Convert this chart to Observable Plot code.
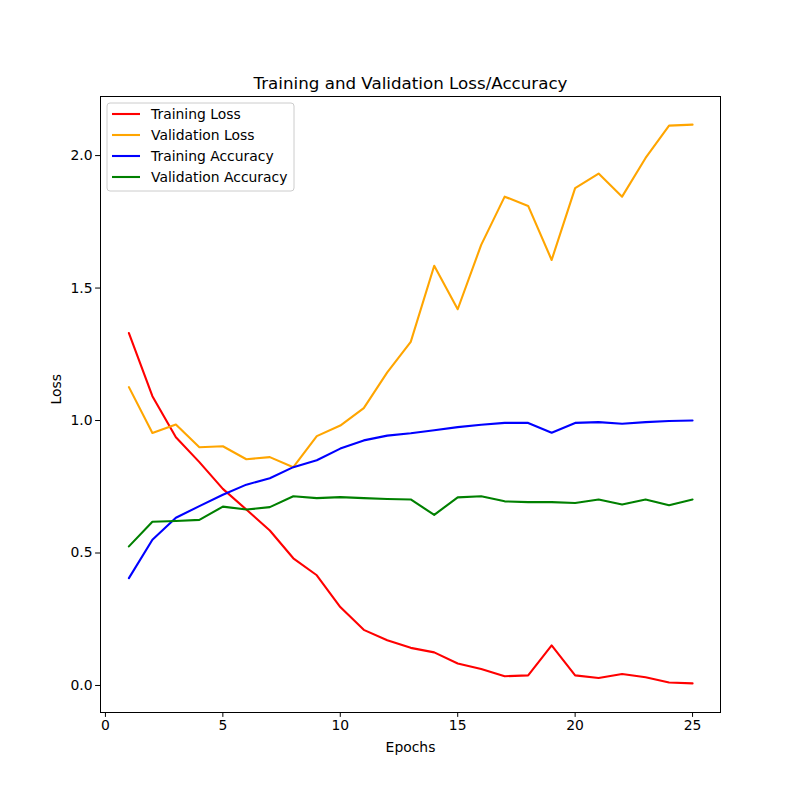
<!DOCTYPE html>
<html>
<head>
<meta charset="utf-8">
<script src="https://cdn.jsdelivr.net/npm/d3@7"></script>
<script src="https://cdn.jsdelivr.net/npm/@observablehq/plot@0.6"></script>
<style>
  body { margin: 0; background: white; }
  #chart { position: relative; width: 800px; height: 800px; }
</style>
</head>
<body>
<div id="chart"></div>
<script>
const epochs = d3.range(1, 26);

const trainLoss = [1.330, 1.092, 0.937, 0.843, 0.742, 0.664, 0.585, 0.480, 0.416, 0.296, 0.210, 0.171, 0.142,
                   0.125, 0.083, 0.062, 0.035, 0.038, 0.151, 0.038, 0.028, 0.043, 0.031, 0.011, 0.008];
const valLoss = [1.126, 0.953, 0.985, 0.899, 0.903, 0.854, 0.862, 0.824, 0.941, 0.981, 1.047, 1.182, 1.297,
                 1.584, 1.420, 1.663, 1.845, 1.810, 1.606, 1.877, 1.932, 1.845, 1.991, 2.113, 2.117];
const trainAcc = [0.405, 0.550, 0.633, 0.677, 0.720, 0.758, 0.782, 0.824, 0.850, 0.894, 0.925, 0.943, 0.952,
                  0.963, 0.975, 0.984, 0.991, 0.991, 0.954, 0.991, 0.994, 0.988, 0.994, 0.998, 1.000];
const valAcc = [0.525, 0.618, 0.621, 0.625, 0.675, 0.664, 0.673, 0.714, 0.707, 0.711, 0.707, 0.704, 0.702,
                0.644, 0.710, 0.714, 0.695, 0.692, 0.692, 0.689, 0.702, 0.683, 0.702, 0.680, 0.702];

const seriesNames = ["Training Loss", "Validation Loss", "Training Accuracy", "Validation Accuracy"];
const seriesColors = ["red", "orange", "blue", "green"];
const seriesValues = [trainLoss, valLoss, trainAcc, valAcc];

const xTicks = [0, 5, 10, 15, 20, 25];
const yTicks = [0, 0.5, 1.0, 1.5, 2.0];

// long table for the line marks
const rows = [];
seriesNames.forEach((name, i) => {
  epochs.forEach((e, j) => rows.push({series: name, epoch: e, value: seriesValues[i][j]}));
});

const chart = Plot.plot({
  width: 800,
  height: 800,
  marginLeft: 100,
  marginRight: 80,
  marginTop: 96,
  marginBottom: 88,
  style: {fontFamily: "DejaVu Sans", fontSize: "13.9px", background: "white", color: "black"},
  x: {domain: [-0.21, 26.19]},
  y: {domain: [-0.102, 2.223]},
  color: {domain: seriesNames, range: seriesColors},
  marks: [
    Plot.line(rows, {x: "epoch", y: "value", z: "series", stroke: "series", strokeWidth: 2.1}),
    Plot.frame({stroke: "black", strokeWidth: 1}),
    Plot.axisX({ticks: xTicks, tickSize: 4.9, tickPadding: 3, label: null, tickFormat: d3.format("d")}),
    Plot.axisY({ticks: yTicks, tickSize: 4.9, tickPadding: 3, label: null, tickFormat: d3.format(".1f")}),
    Plot.text(["Training and Validation Loss/Accuracy"], {frameAnchor: "top", dy: -8, lineAnchor: "bottom", fontSize: 16.7}),
    Plot.text(["Epochs"], {frameAnchor: "bottom", dy: 35, lineAnchor: "middle"}),
    Plot.text(["Loss"], {frameAnchor: "left", dx: -44, rotate: -90, lineAnchor: "middle"})
  ]
});

document.querySelector("#chart").append(chart);

// legend box in the upper left corner, drawn into the plot svg
const svg = d3.select(chart);
const lg = svg.append("g").attr("transform", "translate(107,103)")
  .style("font-family", "DejaVu Sans").style("font-size", "13.9px")
  .attr("text-anchor", "start");
lg.append("rect").attr("width", 187).attr("height", 88).attr("rx", 3)
  .attr("fill", "white").attr("fill-opacity", 0.8).attr("stroke", "#cccccc");
seriesNames.forEach((name, i) => {
  const yy = 11 + i * 21;
  lg.append("line").attr("x1", 5).attr("x2", 33).attr("y1", yy).attr("y2", yy)
    .attr("stroke", seriesColors[i]).attr("stroke-width", 2.1);
  lg.append("text").attr("x", 44).attr("y", yy).attr("dy", "0.35em")
    .attr("text-anchor", "start").attr("fill", "black").text(name);
});
</script>
</body>
</html>
